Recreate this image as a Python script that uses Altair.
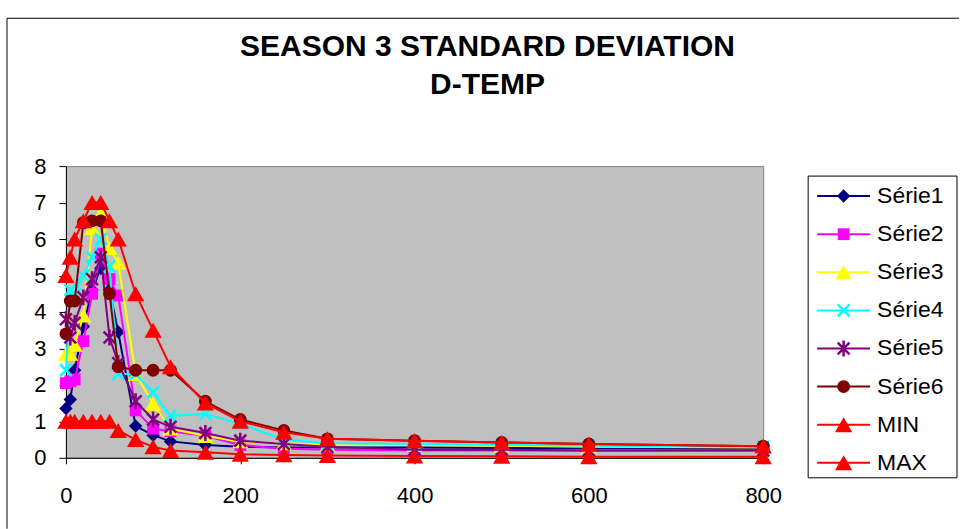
import altair as alt
import pandas as pd

x_vals = [0, 5, 10, 20, 30, 40, 50, 60, 80, 100, 120, 160, 200, 250, 300, 400, 500, 600, 800]

serie1 = [1.35, 1.6, 2.4, 3.6, 4.6, 5.2, 4.6, 3.45, 0.87, 0.62, 0.45, 0.35, 0.3, 0.28, 0.28, 0.28, 0.27, 0.26, 0.25]
serie2 = [2.05, 2.1, 2.15, 3.2, 4.5, 5.6, 4.9, 4.45, 1.3, 0.8, 0.73, 0.6, 0.35, 0.25, 0.22, 0.2, 0.2, 0.19, 0.2]
serie3 = [2.85, 2.85, 3.1, 3.9, 6.3, 6.7, 5.75, 5.35, 2.3, 1.48, 0.8, 0.6, 0.45, 0.4, 0.35, 0.35, 0.33, 0.3, 0.28]
serie4 = [2.4, 4.6, 4.5, 5.0, 5.5, 6.0, 5.25, 2.3, 2.3, 1.8, 1.15, 1.2, 0.93, 0.5, 0.4, 0.38, 0.36, 0.33, 0.3]
serie5 = [3.8, 3.3, 3.7, 4.4, 4.9, 5.5, 3.3, 2.6, 1.55, 1.05, 0.85, 0.68, 0.47, 0.38, 0.3, 0.22, 0.22, 0.2, 0.2]
serie6 = [3.4, 4.3, 4.3, 6.45, 6.5, 6.5, 4.5, 2.5, 2.4, 2.4, 2.4, 1.55, 1.05, 0.75, 0.52, 0.47, 0.42, 0.38, 0.32]
min_vals = [1.0, 1.0, 1.0, 1.0, 1.0, 1.0, 1.0, 0.75, 0.5, 0.3, 0.2, 0.15, 0.1, 0.08, 0.06, 0.05, 0.04, 0.03, 0.03]
max_vals = [5.0, 5.5, 6.0, 6.5, 7.0, 7.0, 6.5, 6.0, 4.5, 3.5, 2.5, 1.5, 1.0, 0.7, 0.52, 0.47, 0.42, 0.38, 0.32]

names = ["Série1", "Série2", "Série3", "Série4", "Série5", "Série6", "MIN", "MAX"]
series_values = [serie1, serie2, serie3, serie4, serie5, serie6, min_vals, max_vals]

# styles per series (kept apart from the data)
colors = ["#000080", "#FF00FF", "#FFFF00", "#00FFFF", "#800080", "#800000", "#FF0000", "#FF0000"]
shapes = ["diamond", "square", "triangle-up", "M-1,-1L1,1M-1,1L1,-1",
          "M-1,-1L1,1M-1,1L1,-1M0,-1.35L0,1.35", "circle", "triangle-up", "triangle-up"]
sizes = [180, 140, 260, 140, 140, 165, 300, 300]
filled = [True, True, True, False, False, True, True, True]

rows = []
for name, vals in zip(names, series_values):
    for xv, yv in zip(x_vals, vals):
        rows.append({"series": name, "x": xv, "value": yv})
df = pd.DataFrame(rows)
leg_df = pd.DataFrame({"series": names})
one = pd.DataFrame({"a": [0]})

FONT = "Liberation Sans"

x_enc = alt.X("x:Q", scale=alt.Scale(domain=[0, 800], nice=False, zero=False),
              axis=alt.Axis(values=[0, 200, 400, 600, 800], title=None, tickSize=6,
                            labelPadding=22, grid=False, labelFlush=False))
y_enc = alt.Y("value:Q", scale=alt.Scale(domain=[0, 8], nice=False),
              axis=alt.Axis(values=list(range(9)), title=None, tickSize=7,
                            labelPadding=13, grid=False, labelFlush=False))
leg_y = alt.Y("series:N", scale=alt.Scale(type="point", domain=names, range=[30, 297], padding=0),
              axis=None)


def point_mark(src, i):
    if filled[i]:
        return src.mark_point(filled=True, opacity=1, shape=shapes[i], size=sizes[i],
                              color=colors[i])
    return src.mark_point(filled=False, opacity=1, shape=shapes[i], size=sizes[i],
                          color=colors[i], strokeWidth=2.5)


base = alt.Chart(df)
main_layers = []
legend_layers = [
    alt.Chart(one).mark_rect(fill="white", stroke="black", strokeWidth=1).encode(
        x=alt.value(743), x2=alt.value(892), y=alt.value(10), y2=alt.value(312))
]
for i, name in enumerate(names):
    flt = alt.FieldEqualPredicate(field="series", equal=name)
    s = base.transform_filter(flt)
    main_layers.append(
        s.mark_line(strokeWidth=2, color=colors[i]).encode(x=x_enc, y=y_enc, order=alt.Order("x:Q")))
    main_layers.append(point_mark(s, i).encode(x=x_enc, y=y_enc))

    ls = alt.Chart(leg_df).transform_filter(flt)
    legend_layers.append(
        ls.mark_rule(strokeWidth=2, color=colors[i]).encode(
            x=alt.value(752), x2=alt.value(805), y=leg_y))
    legend_layers.append(point_mark(ls, i).encode(x=alt.value(778.5), y=leg_y))

legend_layers.append(
    alt.Chart(leg_df).mark_text(align="left", baseline="middle", font=FONT,
                                fontSize=23, color="black").encode(
        x=alt.value(812), y=leg_y, text="series:N"))

main = alt.layer(*main_layers)
legend = alt.layer(*legend_layers)

frame_top = alt.Chart(one).mark_rule(color="black", strokeWidth=1).encode(
    x=alt.value(-59), x2=alt.value(894), y=alt.value(-148))
frame_left = alt.Chart(one).mark_rule(color="black", strokeWidth=1).encode(
    x=alt.value(-59), y=alt.value(-148), y2=alt.value(363))

chart = alt.layer(frame_top, frame_left, main, legend).resolve_scale(
    y="independent"
).properties(
    width=698, height=292,
    padding={"left": 6, "top": 17, "right": 0, "bottom": 0},
    background="white",
    title=alt.TitleParams(
        text=["SEASON 3 STANDARD DEVIATION", "D-TEMP"],
        font=FONT, fontSize=30, fontWeight="bold", color="black",
        anchor="middle", frame="group", dx=73, offset=-82, lineHeight=38),
).configure_view(
    fill="#C0C0C0", stroke="#808080", strokeWidth=1
).configure_axis(
    labelFont=FONT, labelFontSize=22, labelColor="black",
    domainColor="black", tickColor="black", domainWidth=1, tickWidth=1,
)

chart.save("out.html", embed_options={"renderer": "svg", "actions": False})
